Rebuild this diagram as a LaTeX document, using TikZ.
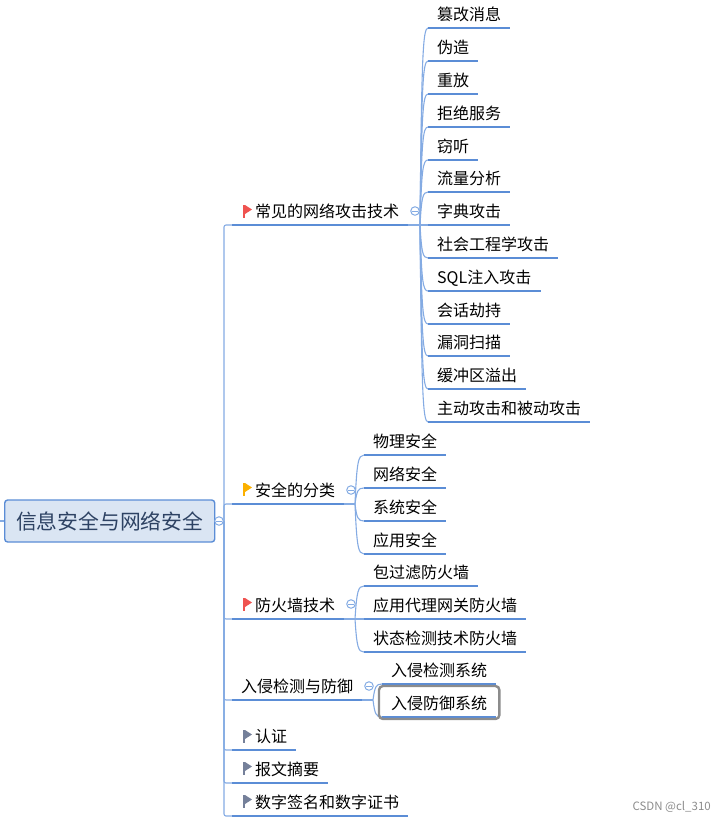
\documentclass[tikz,border=0pt]{standalone}
\usepackage{fontspec}
\usepackage{xcolor}
\setmainfont{Noto Sans CJK SC}
\usetikzlibrary{calc,fit}
\definecolor{linkblue}{HTML}{84ABE3}
\definecolor{lineblue}{HTML}{5B8DD6}
\definecolor{rootfill}{HTML}{DAE5F3}
\definecolor{rootink}{HTML}{2D4263}
\definecolor{flagred}{HTML}{EF5350}
\definecolor{flagyellow}{HTML}{FBB000}
\definecolor{flaggray}{HTML}{75809A}
\newcommand{\branchlink}[2]{\draw[link] (#1) let \p1=(#1), \p2=(#2) in .. controls ({\x1+0.2*(\x2-\x1)},{\y1+0.85*(\y2-\y1)}) and ({\x1+0.35*(\x2-\x1)},{\y2}) .. (#2);}

\begin{document}
\begin{tikzpicture}[x=1pt, y=-1pt, font=\fontsize{16pt}{18pt}\selectfont,
		link/.style={linkblue, line width=1.1pt},
		topic/.style={anchor=south west, inner xsep=9pt, inner ysep=3pt, text height=14pt, text depth=4pt},
		rule/.style={lineblue, line width=2.4pt},
		fold/.style={circle, draw=linkblue, fill=white, line width=1pt, minimum size=8.5pt, inner sep=0pt},
		flagmark/.pic={
			\fill[#1] (-5,-6) rectangle (-3,7);
			\fill[#1] (-3,-6) -- (4,-1.5) -- (-3,3) -- cycle;
		}]
	\useasboundingbox (0,0) rectangle (726,822);

	\node[anchor=west, draw=lineblue, fill=rootfill, rounded corners=3pt, line width=1.4pt, minimum width=210pt, minimum height=42pt, inner sep=0pt, text=rootink, font=\fontsize{20.8pt}{24pt}\selectfont] (root) at (4,521) {信息安全与网络安全};
	\coordinate (rootin) at (0,521);
	\coordinate (trunk) at (224,521);
	\draw[link] (rootin) -- (root.west);
	\draw[link] (root.east) -- (trunk);

	\node[topic] (attack) at (232,225) {\hspace{14pt}常见的网络攻击技术};
	\node[topic] (safety) at (232,504) {\hspace{14pt}安全的分类};
	\node[topic] (wall) at (232,619) {\hspace{14pt}防火墙技术};
	\node[topic] (ids) at (232,700) {入侵检测与防御};
	\node[topic] (auth) at (232,750) {\hspace{14pt}认证};
	\node[topic] (digest) at (232,783) {\hspace{14pt}报文摘要};
	\node[topic] (cert) at (232,816) {\hspace{14pt}数字签名和数字证书};

	\pic at (248,211) {flagmark=flagred};
	\pic at (248,489) {flagmark=flagyellow};
	\pic at (248,604) {flagmark=flagred};
	\pic at (248,736) {flagmark=flaggray};
	\pic at (248,768) {flagmark=flaggray};
	\pic at (248,801) {flagmark=flaggray};

	\coordinate (attackhub) at (420,225);
	\coordinate (safetyhub) at (355,504);
	\coordinate (wallhub) at (355,619);
	\coordinate (idshub) at (373,700);

	\foreach \nm/\py/\txt in {a1/28/篡改消息, a2/61/伪造, a3/94/重放, a4/127/拒绝服务, a5/160/窃听, a6/192/流量分析, a7/225/字典攻击, a8/258/社会工程学攻击, a9/291/SQL注入攻击, a10/324/会话劫持, a11/356/漏洞扫描, a12/389/缓冲区溢出, a13/422/主动攻击和被动攻击} {
		\node[topic] (\nm) at (428,\py) {\txt};
		\branchlink{attackhub}{\nm.south west}
		\draw[rule] (\nm.south west) -- (\nm.south east);
	}
	\foreach \nm/\py/\txt in {s1/455/物理安全, s2/488/网络安全, s3/521/系统安全, s4/554/应用安全} {
		\node[topic] (\nm) at (364,\py) {\txt};
		\branchlink{safetyhub}{\nm.south west}
		\draw[rule] (\nm.south west) -- (\nm.south east);
	}
	\foreach \nm/\py/\txt in {w1/586/包过滤防火墙, w2/619/应用代理网关防火墙, w3/652/状态检测技术防火墙} {
		\node[topic] (\nm) at (364,\py) {\txt};
		\branchlink{wallhub}{\nm.south west}
		\draw[rule] (\nm.south west) -- (\nm.south east);
	}
	\foreach \nm/\py/\txt in {i1/684/入侵检测系统, i2/717/入侵防御系统} {
		\node[topic] (\nm) at (382,\py) {\txt};
		\branchlink{idshub}{\nm.south west}
		\draw[rule] (\nm.south west) -- (\nm.south east);
	}
	\coordinate (seltop) at (440,686);
	\coordinate (selbot) at (440,719);
	\node[draw=black!45, rounded corners=4pt, line width=2.4pt, inner xsep=3pt, inner ysep=0pt, fit=(i2.west)(i2.east)(seltop)(selbot)] (selbox) {};

	\foreach \nm in {attack, safety, wall, ids, auth, digest, cert} {
		\draw[link, rounded corners=2pt] (trunk) |- (\nm.south west);
		\draw[rule] (\nm.south west) -- (\nm.south east);
	}
	\draw[link] (attack.south east) -- (attackhub);
	\draw[link] (safety.south east) -- (safetyhub);
	\draw[link] (wall.south east) -- (wallhub);
	\draw[link] (ids.south east) -- (idshub);

	\foreach \nm/\px/\py in {frootp/219/521, fattack/415/211, fsafety/351/490, fwall/351/604, fids/369/686} {
		\node[fold] (\nm) at (\px,\py) {};
		\draw[linkblue, line width=0.8pt, shorten >=2pt, shorten <=2pt] (\nm.west) -- (\nm.east);
	}

	\node[anchor=east, inner sep=0pt, text=black!45, font=\fontsize{11.5pt}{13pt}\selectfont] (mark) at (711,807) {CSDN @cl\_310};
\end{tikzpicture}
\end{document}
